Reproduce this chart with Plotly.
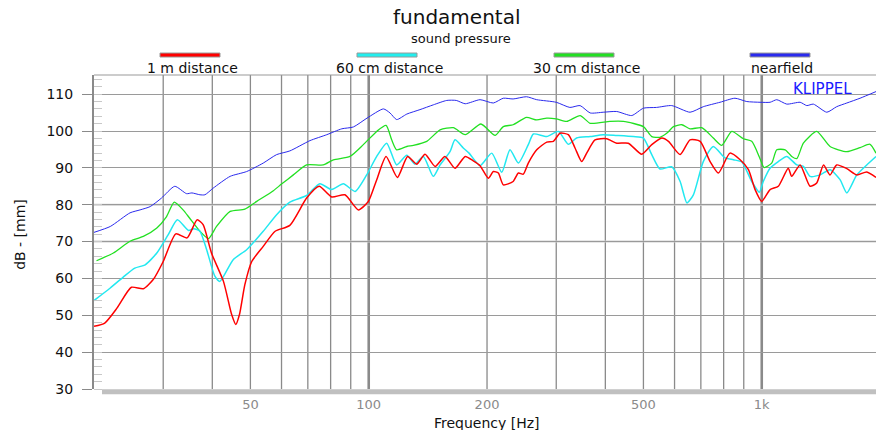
import numpy as np
import plotly.graph_objects as go

# ---------------- data ----------------
f_near = [20, 22, 24.7, 26.2, 27.8, 29.7, 32.1, 34.4, 35.5, 37.2, 38.3, 40.2, 44.4, 48.9, 53.9,
          58.3, 63, 70.9, 78.2, 85.4, 91.4, 99, 109, 113.3, 117.8, 125, 135, 146, 158, 167, 176,
          192, 207.5, 220, 233, 252, 267.6, 300, 325, 345, 366, 395, 427.6, 467, 500, 540, 590,
          657, 710, 783, 855, 916, 990, 1050, 1092, 1158, 1252, 1302, 1353, 1464, 1551, 1646,
          1779, 1953]
db_near = [72.5, 74.1, 77.8, 78.6, 79.5, 81.8, 85.0, 83.0, 83.2, 82.7, 82.7, 84.5, 87.7, 89.0, 91.3,
           93.6, 94.6, 97.4, 99.0, 100.6, 101.1, 103.5, 106.0, 104.9, 103.1, 104.6, 105.8, 107.1, 108.3, 108.3, 107.4,
           108.5, 107.6, 108.9, 108.7, 109.3, 108.5, 107.8, 106.4, 106.9, 104.9, 105.1, 105.3, 104.2, 106.2, 106.4, 106.9,
           105.1, 106.6, 107.8, 108.9, 108.0, 107.8, 107.8, 108.5, 107.3, 107.8, 106.9, 107.3, 105.1, 106.6, 107.6,
           108.9, 110.7]

f_30 = [20.3, 22.4, 24.7, 26.7, 28.9, 30.6, 32.0, 33.7, 35.0, 37.2, 39.1, 41.0, 44.4, 48.4, 51.9,
        57.2, 60, 64.3, 69.5, 76.6, 81.3, 89.6, 96.9, 104.8, 110.7, 114.4, 117.8, 125, 129.9, 140.5,
        151.9, 164.2, 176, 193, 209.6, 220, 233, 252, 267.6, 283.8, 300, 319, 345, 366, 411, 444.6,
        500, 525, 551, 575, 596, 626, 657, 703.6, 753, 791, 839, 898, 943, 990, 1014, 1060, 1092,
        1147, 1192, 1228, 1276, 1380, 1492, 1646, 1779, 1886, 1953]
db_30 = [64.8, 66.9, 70.1, 71.4, 73.7, 76.8, 80.7, 78.6, 76.4, 72.8, 70.8, 74.1, 78.2, 78.8, 80.9,
         83.8, 85.6, 88.1, 90.8, 90.8, 92.2, 93.1, 96.3, 99.9, 101.5, 97.6, 94.9, 95.8, 96.1, 97.2,
         100.3, 100.9, 99.0, 101.9, 98.8, 101.2, 101.7, 103.7, 103.0, 103.5, 103.3, 102.6, 104.2, 102.1, 102.6, 102.6,
         101.2, 98.5, 98.3, 99.5, 101.2, 101.7, 100.6, 100.9, 98.1, 96.1, 99.9, 97.9, 97.2, 92.5, 90.1, 91.3, 94.9,
         94.9, 93.1, 92.5, 96.7, 99.9, 95.8, 94.4, 95.5, 96.4, 94.0]

f_60 = [20, 22, 23.7, 25.4, 27.0, 28.9, 30.9, 32.6, 34.8, 35.9, 37.2, 38.7, 40.6, 41.8, 45.2,
        48.9, 53.9, 58.3, 63.0, 69.5, 75.1, 80.5, 86.2, 92.3, 98.8, 104.8, 111.1, 117.8, 125, 131.1,
        137.7, 146, 151.9, 161, 165.8, 174, 180, 192, 205.6, 218, 228.8, 240.3, 254.7, 262.4, 283.8,
        303.8, 322, 338, 366, 395, 427.6, 471.5, 500, 525, 551, 590, 620, 645, 670, 710, 753, 806.6,
        847, 890, 943, 986, 1009, 1050, 1102, 1158, 1228, 1276, 1327, 1408, 1492, 1582, 1646, 1745,
        1850, 1953]
db_60 = [54.0, 57.4, 60.3, 62.8, 63.7, 66.9, 71.9, 75.9, 73.0, 73.5, 72.8, 67.8, 60.6, 59.2, 65.1,
         67.8, 72.8, 77.3, 80.7, 82.5, 85.7, 84.1, 85.7, 83.6, 88.1, 93.1, 96.7, 90.8, 93.4, 91.0,
         93.1, 87.7, 90.8, 94.4, 97.6, 95.4, 94.0, 90.6, 94.0, 88.8, 94.9, 91.3, 96.3, 99.2, 98.5,
         99.9, 96.4, 98.1, 98.5, 99.0, 98.8, 98.5, 98.1, 93.6, 89.7, 90.3, 86.3, 80.5, 82.7, 91.7, 95.8, 92.7,
         92.2, 91.6, 86.3, 83.4, 86.3, 89.9, 91.7, 93.1, 90.8, 90.4, 87.7, 88.1, 89.5, 86.8, 83.2, 88.1,
         90.8, 93.1]

f_1m = [20, 21.3, 22.9, 24.9, 26.7, 28.3, 30.0, 32.3, 34.5, 36.6, 37.9, 39.8, 42.7, 44.8, 45.9,
        46.9, 48.4, 50.4, 53.9, 57.8, 63, 69.5, 74.8, 80.5, 87, 94.1, 99.8, 104.8, 110.7, 118.3,
        125.6, 132.4, 139.1, 147.5, 156.3, 165.8, 176, 184.5, 192, 201.6, 207.5, 213.7, 220, 233,
        240.3, 247.4, 254.7, 267.6, 283.8, 295, 306.8, 322, 334.9, 348.3, 358.6, 376.5, 403.3, 427.6,
        457.6, 495, 525, 556.7, 579, 620, 657, 697, 739, 776, 830, 881, 925, 962, 1000, 1050, 1102,
        1168, 1192, 1252, 1327, 1380, 1436, 1492, 1551, 1646, 1745, 1850, 1953]
db_1m = [47.0, 47.9, 52.0, 57.6, 57.2, 59.7, 64.6, 72.1, 71.0, 75.9, 74.6, 66.9, 59.2, 50.2, 47.5,
         50.2, 58.3, 64.6, 68.7, 72.8, 74.4, 81.8, 85.0, 82.1, 82.7, 78.6, 80.9, 86.8, 93.1, 87.4,
         93.1, 91.0, 93.7, 90.4, 93.1, 89.9, 93.1, 91.9, 90.6, 87.2, 89.0, 88.6, 85.4, 86.3,
         88.6, 88.3, 91.3, 94.9, 97.0, 97.2, 99.4, 99.0, 95.4, 91.7, 94.0, 97.6, 97.9, 96.7,
         96.7, 93.7, 96.3, 98.1, 97.2, 93.6, 97.6, 97.2, 91.7, 88.6, 94.0, 92.2, 89.5, 84.1, 80.9, 84.1, 85.0,
         89.9, 87.7, 90.8, 85.0, 85.9, 90.8, 88.1, 90.8, 89.8, 88.1, 88.9, 87.4]

series_names = ["1 m distance", "60 cm distance", "30 cm distance", "nearfield"]
series_colors = ["#ff0000", "#22e8f0", "#22e022", "#2a2aee"]

grid_freqs = [30, 40, 50, 60, 70, 80, 90, 100, 200, 300, 400, 500, 600, 700, 800, 900, 1000]
x_tickvals = [50, 100, 200, 500, 1000]
x_ticktext = ["50", "100", "200", "500", "1k"]
y_tickvals = [30, 40, 50, 60, 70, 80, 90, 100, 110]

# ---------------- figure ----------------
W, H = 876, 430
L, R, T, B = 94, 876, 75, 389.3


def px(x):
    return (x - L) / (R - L)


def py(y):
    return (B - y) / (B - T)


FONT = "DejaVu Sans"
fig = go.Figure()

data = [(f_near, db_near, 3, 1.0), (f_30, db_30, 2, 1.3), (f_60, db_60, 1, 1.5), (f_1m, db_1m, 0, 1.5)]
for fx, dy, idx, lw in data:
    fig.add_trace(go.Scatter(x=fx, y=dy, mode="lines", name=series_names[idx],
                             line=dict(color=series_colors[idx], width=lw, shape="spline", smoothing=0.6),
                             showlegend=False))

shapes = []
for g in grid_freqs:
    thick = g in (100, 1000)
    shapes.append(dict(type="line", xref="x", yref="paper", x0=g, x1=g, y0=0, y1=1,
                       line=dict(color="#8a8a8a", width=2.6 if thick else 1.3), layer="below"))
for yv in (70, 80):
    shapes.append(dict(type="line", xref="paper", yref="y", x0=0, x1=1, y0=yv, y1=yv,
                       line=dict(color="#cfcfcf", width=2), layer="below"))
# top frame line
shapes.append(dict(type="line", xref="paper", yref="paper", x0=0, x1=1, y0=1, y1=1,
                   line=dict(color="#999999", width=1)))
# bottom light band
shapes.append(dict(type="rect", xref="paper", yref="paper", x0=px(102), x1=1,
                   y0=py(394.5), y1=py(389.5), fillcolor="#c0c0c0", line=dict(width=0)))

# legend swatches
seg = [(160, 220), (357, 417), (554, 614), (750, 810)]
lab_x = [192, 389, 586, 782]
annotations = []
for i in range(4):
    shapes.append(dict(type="rect", xref="paper", yref="paper", x0=px(seg[i][0]), x1=px(seg[i][1]),
                       y0=py(57), y1=py(53), fillcolor=series_colors[i] if i != 1 else "#22eeee",
                       line=dict(color="#999999", width=1)))
    annotations.append(dict(text=series_names[i], xref="paper", yref="paper", x=px(lab_x[i]), y=py(67.5),
                            showarrow=False, xanchor="center", yanchor="middle",
                            font=dict(family=FONT, size=14, color="#111111")))

annotations += [
    dict(text="fundamental", xref="paper", yref="paper", x=px(456), y=py(17), showarrow=False,
         xanchor="center", yanchor="middle", font=dict(family=FONT, size=20, color="#111111")),
    dict(text="sound pressure", xref="paper", yref="paper", x=px(461), y=py(38), showarrow=False,
         xanchor="center", yanchor="middle", font=dict(family=FONT, size=13, color="#111111")),
    dict(text="KLIPPEL", xref="paper", yref="paper", x=px(822), y=py(89.5), showarrow=False,
         xanchor="center", yanchor="middle", font=dict(family=FONT, size=15, color="#1a1aff")),
    dict(text="Frequency [Hz]", xref="paper", yref="paper", x=px(487), y=py(423), showarrow=False,
         xanchor="center", yanchor="middle", font=dict(family=FONT, size=14, color="#111111")),
    dict(text="dB - [mm]", xref="paper", yref="paper", x=px(20), y=py(235), showarrow=False,
         textangle=-90, xanchor="center", yanchor="middle", font=dict(family=FONT, size=14, color="#111111")),
]

fig.update_layout(
    width=W, height=H,
    margin=dict(l=L, r=W - R, t=T, b=H - B, pad=0),
    paper_bgcolor="white", plot_bgcolor="white",
    shapes=shapes, annotations=annotations,
    xaxis=dict(type="log", range=[np.log10(20), np.log10(1953)], showgrid=False, zeroline=False,
               tickmode="array", tickvals=x_tickvals, ticktext=x_ticktext, ticks="",
               tickfont=dict(family=FONT, size=13, color="#8a8a8a"), showline=False,
               ticklabelstandoff=6),
    yaxis=dict(range=[30, 115.2], tickmode="array", tickvals=y_tickvals, showgrid=True,
               gridcolor="#9a9a9a", gridwidth=1, zeroline=False,
               showline=True, linecolor="#8a8a8a", linewidth=2,
               ticks="outside", ticklen=10, tickcolor="#8a8a8a", tickwidth=1,
               tickfont=dict(family=FONT, size=14, color="#111111"),
               ticklabelstandoff=6,
               minor=dict(dtick=2, tick0=30, ticks="inside", ticklen=8, tickcolor="#c8c8c8",
                          tickwidth=1, showgrid=False)),
)

fig.write_html("out.html")
